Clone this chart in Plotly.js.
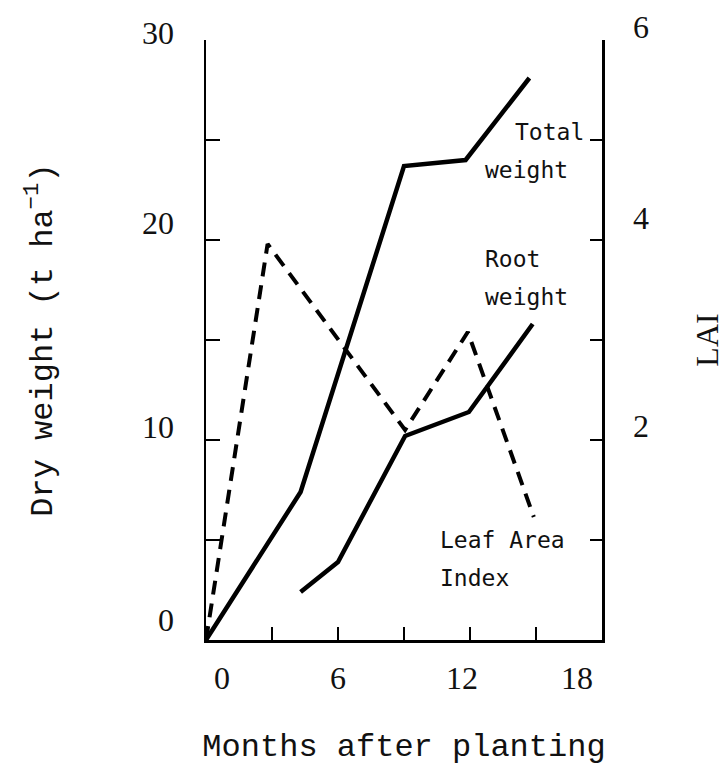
<!DOCTYPE html>
<html>
<head>
<meta charset="utf-8">
<script src="https://cdn.plot.ly/plotly-3.0.1.min.js"></script>
<style>
  html, body { margin: 0; padding: 0; background: #fff; }
  #chart { width: 725px; height: 766px; }
</style>
</head>
<body>
<div id="chart"></div>
<script>
// Dry matter accumulation (t/ha) and leaf area index against months after planting
const totalMonths = [0, 4.3, 9.0, 11.8, 14.7];
const totalWeight = [0, 7.4, 23.7, 24.0, 28.1];

const rootMonths = [4.3, 6.0, 9.05, 11.95, 14.85];
const rootWeight = [2.4, 3.9, 10.2, 11.4, 15.8];

const laiMonths = [0, 2.8, 9.05, 11.9, 14.9];
const laiValues = [0, 3.96, 2.1, 3.08, 1.23];

// Axis ticks and the hand-set number labels beside them
const monthTickMarks = [3, 6, 9, 12, 15];
const monthLabelPos = [0.73, 6.0, 11.64, 16.86];
const monthLabels = ['0', '6', '12', '18'];

const weightTickMarks = [5, 10, 15, 20, 25, 30];
const weightLabelPos = [1.0, 10.65, 20.85, 30.35];
const weightLabels = ['0', '10', '20', '30'];

const laiTickMarks = [1, 2, 3, 4, 5, 6];
const laiLabelPos = [2.14, 4.22, 6.13];
const laiLabels = ['2', '4', '6'];

// Frame geometry (px)
const W = 725, H = 766;
const mL = 206, mR = 123, mT = 10, mB = 96;
const frameTop = 40, frameBottom = 640;
const plotH = H - mT - mB;
const weightRange = [0, 30];
const laiRange = [0, 6];
const dom = [(H - mB - frameBottom) / plotH, (H - mB - frameTop) / plotH];

// label axes span the whole plot area with the same scale as the data axes
function stretched(range) {
  const per = (range[1] - range[0]) / (frameBottom - frameTop);
  return [range[0] - per * (H - mB - frameBottom), range[1] + per * (frameTop - mT)];
}

const numFont = { family: 'Liberation Serif, serif', size: 32, color: '#111' };
const monoTitle = { family: 'Liberation Mono, monospace', size: 32, color: '#111' };
const noteFont = { family: 'DejaVu Sans Mono, monospace', size: 23, color: '#111' };

const traces = [
  { x: totalMonths, y: totalWeight, xaxis: 'x', yaxis: 'y', mode: 'lines',
    line: { color: '#000', width: 4.5 }, hoverinfo: 'skip', showlegend: false },
  { x: rootMonths, y: rootWeight, xaxis: 'x', yaxis: 'y', mode: 'lines',
    line: { color: '#000', width: 4.5 }, hoverinfo: 'skip', showlegend: false },
  { x: laiMonths, y: laiValues, xaxis: 'x', yaxis: 'y2', mode: 'lines',
    line: { color: '#000', width: 4, dash: '14px,9px' }, hoverinfo: 'skip', showlegend: false },
  // carriers for the label-only axes
  { x: [], y: [], xaxis: 'x2', yaxis: 'y', mode: 'lines', hoverinfo: 'skip', showlegend: false },
  { x: [], y: [], xaxis: 'x', yaxis: 'y3', mode: 'lines', hoverinfo: 'skip', showlegend: false },
  { x: [], y: [], xaxis: 'x', yaxis: 'y4', mode: 'lines', hoverinfo: 'skip', showlegend: false }
];

const layout = {
  width: W, height: H,
  margin: { l: mL, r: mR, t: mT, b: mB, pad: 0 },
  paper_bgcolor: '#fff', plot_bgcolor: 'rgba(0,0,0,0)',
  showlegend: false,
  xaxis: {
    range: [0, 18], anchor: 'y',
    showline: true, linecolor: '#000', linewidth: 3,
    ticks: 'inside', tickvals: monthTickMarks, ticklen: 13, tickwidth: 2.5, tickcolor: '#000',
    showticklabels: false, showgrid: false, zeroline: false,
    title: { text: 'Months after planting', font: monoTitle, standoff: 95 }
  },
  xaxis2: {
    range: [0, 18], overlaying: 'x', anchor: 'y', side: 'bottom',
    showline: false, ticks: '', tickvals: monthLabelPos, ticktext: monthLabels,
    tickfont: numFont, ticklabelstandoff: 16, showgrid: false, zeroline: false
  },
  yaxis: {
    range: weightRange, domain: dom, anchor: 'x',
    showline: true, linecolor: '#000', linewidth: 2.5,
    ticks: 'inside', tickvals: weightTickMarks, ticklen: 14, tickwidth: 2.5, tickcolor: '#000',
    showticklabels: false, showgrid: false, zeroline: false,
    title: { text: 'Dry weight (t ha<sup>\u22121</sup>)', font: monoTitle, standoff: 142 }
  },
  yaxis2: {
    range: laiRange, overlaying: 'y', side: 'right', anchor: 'x',
    showline: true, linecolor: '#000', linewidth: 2.5,
    ticks: 'inside', tickvals: laiTickMarks, ticklen: 12, tickwidth: 2.5, tickcolor: '#000',
    showticklabels: false, showgrid: false, zeroline: false,
    title: { text: 'LAI', font: numFont, standoff: 95 }
  },
  yaxis3: {
    range: stretched(weightRange), domain: [0, 1], anchor: 'x', side: 'left',
    showline: false, ticks: '', tickvals: weightLabelPos, ticktext: weightLabels,
    tickfont: numFont, ticklabelstandoff: 31, showgrid: false, zeroline: false
  },
  yaxis4: {
    range: stretched(laiRange), domain: [0, 1], anchor: 'x', side: 'right',
    showline: false, ticks: '', tickvals: laiLabelPos, ticktext: laiLabels,
    tickfont: numFont, ticklabelstandoff: 30, showgrid: false, zeroline: false
  },
  annotations: [
    { text: 'Total', x: 13.95, y: 25.4 },
    { text: 'weight', x: 12.6, y: 23.5 },
    { text: 'Root', x: 12.6, y: 19.05 },
    { text: 'weight', x: 12.6, y: 17.15 },
    { text: 'Leaf Area', x: 10.55, y: 5.0 },
    { text: 'Index', x: 10.55, y: 3.1 }
  ].map(a => Object.assign({
    xref: 'x', yref: 'y', xanchor: 'left', yanchor: 'middle',
    showarrow: false, font: noteFont
  }, a))
};

Plotly.newPlot('chart', traces, layout, { staticPlot: true, displayModeBar: false });
</script>
</body>
</html>
